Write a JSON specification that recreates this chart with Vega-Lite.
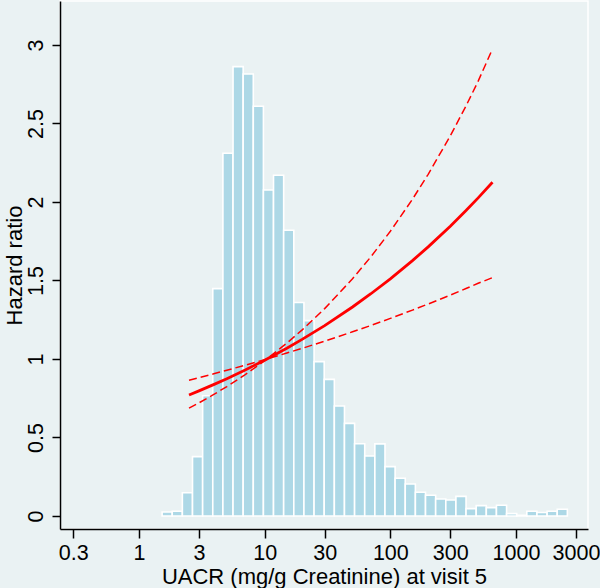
{
  "$schema": "https://vega.github.io/schema/vega-lite/v6.json",
  "width": 528,
  "height": 528,
  "autosize": {"type": "none"},
  "padding": {"left": 60, "top": 1, "right": 12, "bottom": 59},
  "background": "#EAF2F3",
  "config": {
    "view": {"stroke": "#FFFFFF", "strokeWidth": 1.5, "fill": "#EAF2F3"},
    "font": "Liberation Sans",
    "axis": {
      "grid": false,
      "domainColor": "#000000",
      "domainWidth": 1.5,
      "tickColor": "#000000",
      "tickWidth": 1.5,
      "labelFont": "Liberation Sans",
      "titleFont": "Liberation Sans",
      "labelFontSize": 21.5,
      "titleFontSize": 22,
      "labelColor": "#000000",
      "titleColor": "#000000",
      "titleFontWeight": "normal"
    }
  },
  "datasets": {
    "bars": [
      {"x0": 1.527, "x1": 1.838, "h": 0.025},
      {"x0": 1.838, "x1": 2.213, "h": 0.03},
      {"x0": 2.213, "x1": 2.665, "h": 0.148},
      {"x0": 2.665, "x1": 3.209, "h": 0.378},
      {"x0": 3.209, "x1": 3.863, "h": 0.766},
      {"x0": 3.863, "x1": 4.651, "h": 1.448},
      {"x0": 4.651, "x1": 5.6, "h": 2.31},
      {"x0": 5.6, "x1": 6.742, "h": 2.862},
      {"x0": 6.742, "x1": 8.117, "h": 2.815},
      {"x0": 8.117, "x1": 9.77, "h": 2.61},
      {"x0": 9.77, "x1": 11.76, "h": 2.076},
      {"x0": 11.76, "x1": 14.16, "h": 2.17},
      {"x0": 14.16, "x1": 17.05, "h": 1.82},
      {"x0": 17.05, "x1": 20.53, "h": 1.36},
      {"x0": 20.53, "x1": 24.72, "h": 1.244},
      {"x0": 24.72, "x1": 29.76, "h": 0.983},
      {"x0": 29.76, "x1": 35.83, "h": 0.87},
      {"x0": 35.83, "x1": 43.14, "h": 0.7},
      {"x0": 43.14, "x1": 51.94, "h": 0.59},
      {"x0": 51.94, "x1": 62.53, "h": 0.46},
      {"x0": 62.53, "x1": 75.29, "h": 0.382},
      {"x0": 75.29, "x1": 90.65, "h": 0.459},
      {"x0": 90.65, "x1": 109.1, "h": 0.314},
      {"x0": 109.1, "x1": 131.4, "h": 0.24},
      {"x0": 131.4, "x1": 158.2, "h": 0.204},
      {"x0": 158.2, "x1": 190.5, "h": 0.151},
      {"x0": 190.5, "x1": 229.4, "h": 0.132},
      {"x0": 229.4, "x1": 276.2, "h": 0.108},
      {"x0": 276.2, "x1": 332.5, "h": 0.102},
      {"x0": 332.5, "x1": 400.3, "h": 0.125},
      {"x0": 400.3, "x1": 482.0, "h": 0.047},
      {"x0": 482.0, "x1": 580.3, "h": 0.066},
      {"x0": 580.3, "x1": 698.7, "h": 0.053},
      {"x0": 698.7, "x1": 841.2, "h": 0.068},
      {"x0": 841.2, "x1": 1013, "h": 0.015},
      {"x0": 1013, "x1": 1219, "h": 0.004},
      {"x0": 1219, "x1": 1468, "h": 0.03},
      {"x0": 1468, "x1": 1768, "h": 0.022},
      {"x0": 1768, "x1": 2128, "h": 0.03},
      {"x0": 2128, "x1": 2562, "h": 0.043}
    ],
    "curves": [
      {"x": 2.5, "hr": 0.7707, "s": "fit"},
      {"x": 3, "hr": 0.7968, "s": "fit"},
      {"x": 4, "hr": 0.8397, "s": "fit"},
      {"x": 5, "hr": 0.8746, "s": "fit"},
      {"x": 7, "hr": 0.93, "s": "fit"},
      {"x": 10, "hr": 0.9925, "s": "fit"},
      {"x": 15, "hr": 1.0687, "s": "fit"},
      {"x": 20, "hr": 1.1262, "s": "fit"},
      {"x": 30, "hr": 1.2127, "s": "fit"},
      {"x": 50, "hr": 1.3311, "s": "fit"},
      {"x": 70, "hr": 1.4154, "s": "fit"},
      {"x": 100, "hr": 1.5105, "s": "fit"},
      {"x": 150, "hr": 1.6264, "s": "fit"},
      {"x": 200, "hr": 1.7141, "s": "fit"},
      {"x": 300, "hr": 1.8456, "s": "fit"},
      {"x": 400, "hr": 1.9452, "s": "fit"},
      {"x": 500, "hr": 2.026, "s": "fit"},
      {"x": 650, "hr": 2.1253, "s": "fit"},
      {"x": 2.5, "hr": 0.6867, "s": "ci1"},
      {"x": 3, "hr": 0.7205, "s": "ci1"},
      {"x": 4, "hr": 0.7773, "s": "ci1"},
      {"x": 5, "hr": 0.8242, "s": "ci1"},
      {"x": 7, "hr": 0.9005, "s": "ci1"},
      {"x": 10, "hr": 0.9892, "s": "ci1"},
      {"x": 15, "hr": 1.1005, "s": "ci1"},
      {"x": 20, "hr": 1.1871, "s": "ci1"},
      {"x": 30, "hr": 1.3207, "s": "ci1"},
      {"x": 50, "hr": 1.5109, "s": "ci1"},
      {"x": 70, "hr": 1.6507, "s": "ci1"},
      {"x": 100, "hr": 1.8133, "s": "ci1"},
      {"x": 150, "hr": 2.0175, "s": "ci1"},
      {"x": 200, "hr": 2.1761, "s": "ci1"},
      {"x": 300, "hr": 2.4211, "s": "ci1"},
      {"x": 400, "hr": 2.6117, "s": "ci1"},
      {"x": 500, "hr": 2.7696, "s": "ci1"},
      {"x": 650, "hr": 2.975, "s": "ci1"},
      {"x": 2.5, "hr": 0.8649, "s": "ci2"},
      {"x": 3, "hr": 0.8811, "s": "ci2"},
      {"x": 4, "hr": 0.9073, "s": "ci2"},
      {"x": 5, "hr": 0.9281, "s": "ci2"},
      {"x": 7, "hr": 0.9603, "s": "ci2"},
      {"x": 10, "hr": 0.9958, "s": "ci2"},
      {"x": 15, "hr": 1.0377, "s": "ci2"},
      {"x": 20, "hr": 1.0684, "s": "ci2"},
      {"x": 30, "hr": 1.1134, "s": "ci2"},
      {"x": 50, "hr": 1.1728, "s": "ci2"},
      {"x": 70, "hr": 1.2135, "s": "ci2"},
      {"x": 100, "hr": 1.2584, "s": "ci2"},
      {"x": 150, "hr": 1.3113, "s": "ci2"},
      {"x": 200, "hr": 1.3501, "s": "ci2"},
      {"x": 300, "hr": 1.4069, "s": "ci2"},
      {"x": 400, "hr": 1.4487, "s": "ci2"},
      {"x": 500, "hr": 1.482, "s": "ci2"},
      {"x": 650, "hr": 1.518, "s": "ci2"}
    ]
  },
  "layer": [
    {
      "data": {"name": "bars"},
      "mark": {"type": "rect", "fill": "#ADD8E6", "stroke": "#FFFFFF", "strokeWidth": 1.6},
      "encoding": {
        "x": {
          "field": "x0", "type": "quantitative",
          "scale": {"type": "log", "domain": [0.2351, 3740], "nice": false},
          "axis": {
            "values": [0.3, 1, 3, 10, 30, 100, 300, 1000, 3000],
            "format": "~g",
            "title": "UACR (mg/g Creatinine) at visit 5",
            "tickSize": 9,
            "labelPadding": 4,
            "titleAnchor": "middle",
            "titleBaseline": "alphabetic",
            "titleY": 54.5,
            "labelFlush": false,
            "labelOverlap": false
          }
        },
        "x2": {"field": "x1"},
        "y": {
          "field": "h", "type": "quantitative",
          "scale": {"domain": [-0.083, 3.28], "nice": false, "zero": false},
          "axis": {
            "values": [0, 0.5, 1, 1.5, 2, 2.5, 3],
            "format": "~g",
            "title": "Hazard ratio",
            "labelAngle": -90,
            "tickSize": 8,
            "labelPadding": 5,
            "titleAngle": -90,
            "titleAlign": "center",
            "titleBaseline": "alphabetic",
            "titleX": -39,
            "titleY": 264,
            "labelFlush": false,
            "labelOverlap": false
          }
        },
        "y2": {"datum": 0}
      }
    },
    {
      "mark": {"type": "rule", "color": "#000000", "strokeWidth": 2.4},
      "encoding": {"y": {"datum": 1}}
    },
    {
      "data": {"name": "curves"},
      "transform": [{"filter": "datum.s !== 'fit'"}],
      "mark": {"type": "line", "color": "#FF0000", "strokeWidth": 1.5, "strokeDash": [8, 4]},
      "encoding": {
        "x": {"field": "x", "type": "quantitative"},
        "y": {"field": "hr", "type": "quantitative"},
        "detail": {"field": "s"}
      }
    },
    {
      "data": {"name": "curves"},
      "transform": [{"filter": "datum.s === 'fit'"}],
      "mark": {"type": "line", "color": "#FF0000", "strokeWidth": 2.8},
      "encoding": {
        "x": {"field": "x", "type": "quantitative"},
        "y": {"field": "hr", "type": "quantitative"}
      }
    }
  ]
}
